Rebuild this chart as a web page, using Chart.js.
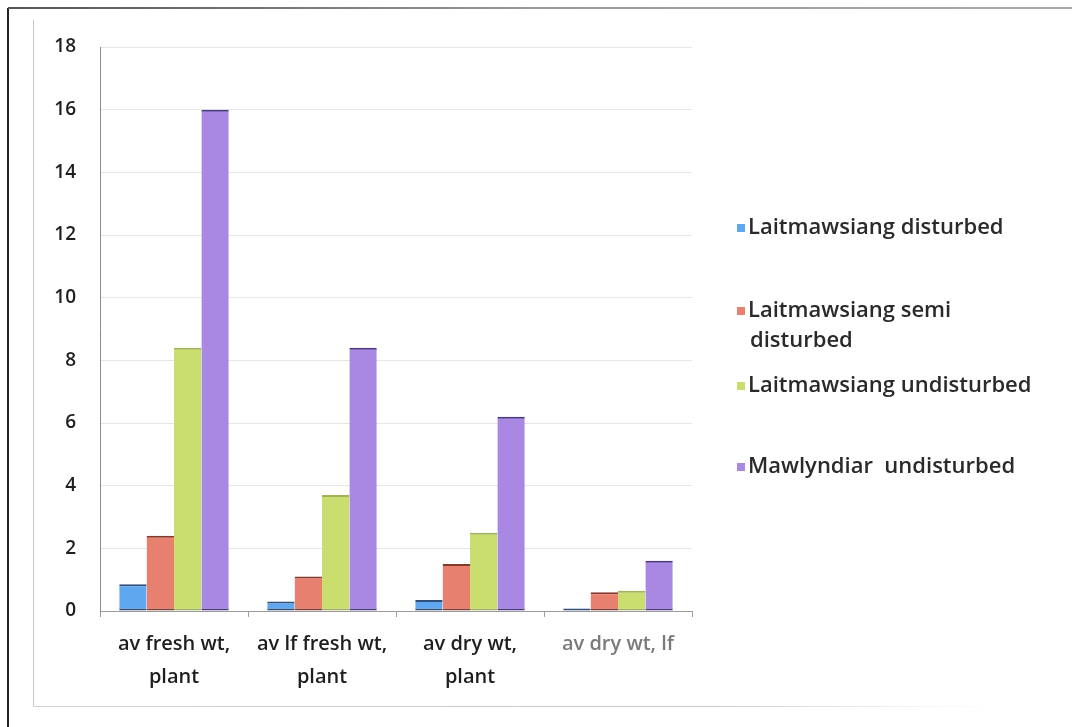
<!DOCTYPE html>
<html>
<head>
<meta charset="utf-8">
<script src="https://cdn.jsdelivr.net/npm/chart.js@4/dist/chart.umd.min.js"></script>
<style>
  html, body { margin: 0; padding: 0; background: #ffffff; }
  #wrap { position: relative; width: 1072px; height: 727px; }
</style>
</head>
<body>
<div id="wrap"><canvas id="c" width="1072" height="727"></canvas></div>
<script>
// Biomass measurements by site
const categories = [
  ["av fresh wt,", "plant"],
  ["av lf fresh wt,", "plant"],
  ["av dry wt,", "plant"],
  "av dry wt, lf"
];
const seriesNames = [
  "Laitmawsiang disturbed",
  ["Laitmawsiang semi", "disturbed"],
  "Laitmawsiang undisturbed",
  "Mawlyndiar  undisturbed"
];
const laitDisturbed     = [0.85, 0.3, 0.35, 0.08];
const laitSemiDisturbed = [2.4, 1.1, 1.5, 0.6];
const laitUndisturbed   = [8.4, 3.7, 2.5, 0.65];
const mawUndisturbed    = [16.0, 8.4, 6.2, 1.6];
const yTicks = [0, 2, 4, 6, 8, 10, 12, 14, 16, 18];

const fills   = ["#5fa7ee", "#e8806f", "#c9de6e", "#a988e4"];
const edges   = ["#2e4f7a", "#86392e", "#9fb25a", "#4b3585"];
const values  = [laitDisturbed, laitSemiDisturbed, laitUndisturbed, mawUndisturbed];

const FONT = "'Open Sans', 'DejaVu Sans', sans-serif";

// page frame and chart border
const framePlugin = {
  id: "frame",
  beforeDraw(chart) {
    const ctx = chart.ctx;
    ctx.save();
    ctx.fillStyle = "#ffffff";
    ctx.fillRect(0, 0, chart.width, chart.height);
    // outer edge
    ctx.strokeStyle = "#222";
    ctx.lineWidth = 2;
    ctx.beginPath();
    ctx.moveTo(8, 8); ctx.lineTo(8, chart.height);
    ctx.stroke();
    const g = ctx.createLinearGradient(8, 0, chart.width, 0);
    g.addColorStop(0, "#555");
    g.addColorStop(0.5, "#999");
    g.addColorStop(1, "#aaa");
    ctx.strokeStyle = g;
    ctx.beginPath();
    ctx.moveTo(8, 8); ctx.lineTo(chart.width, 8);
    ctx.stroke();
    // inner chart border
    ctx.lineWidth = 1;
    ctx.strokeStyle = "#c4c4c4";
    ctx.beginPath();
    ctx.moveTo(33.5, 20); ctx.lineTo(33.5, 706.5);
    ctx.stroke();
    const gb = ctx.createLinearGradient(33, 0, 1000, 0);
    gb.addColorStop(0, "#d0d0d0");
    gb.addColorStop(0.7, "#c8c8c8");
    gb.addColorStop(1, "rgba(220,220,220,0)");
    ctx.strokeStyle = gb;
    ctx.beginPath();
    ctx.moveTo(33.5, 706.5); ctx.lineTo(1000, 706.5);
    ctx.stroke();
    ctx.restore();
  }
};

// legend drawn beside the plot
const legendPlugin = {
  id: "sideLegend",
  afterDraw(chart) {
    const ctx = chart.ctx;
    const rows = [228, 311, 386, 467];
    const x = 737;
    ctx.save();
    ctx.font = "600 22px " + FONT;
    ctx.textBaseline = "middle";
    chart.data.datasets.forEach((ds, i) => {
      const y = rows[i];
      ctx.fillStyle = ds.backgroundColor;
      ctx.fillRect(x, y - 4, 8, 8);
      ctx.fillStyle = "#2a2a2a";
      const lines = Array.isArray(ds.label) ? ds.label : [ds.label];
      lines.forEach((t, k) => {
        ctx.fillText(t, k === 0 ? x + 11 : x + 13, y + k * 30);
      });
    });
    ctx.restore();
  }
};

new Chart(document.getElementById("c"), {
  type: "bar",
  data: {
    labels: categories,
    datasets: values.map((v, i) => ({
      label: seriesNames[i],
      data: v,
      backgroundColor: fills[i],
      borderColor: edges[i],
      borderWidth: { top: 2, bottom: 2, left: 0, right: 0 },
      borderSkipped: false,
      categoryPercentage: 0.74,
      barPercentage: 1.0
    }))
  },
  options: {
    responsive: false,
    animation: false,
    layout: { padding: { left: 0, right: 380, top: 47, bottom: 10 } },
    plugins: { legend: { display: false }, tooltip: { enabled: false } },
    scales: {
      x: {
        afterFit(s) { s.height = 106; },
        border: { display: true, color: "#9a9a9a", width: 1 },
        grid: { display: true, drawOnChartArea: false, offset: true, tickLength: 6, color: "#a0a0a0" },
        ticks: {
          padding: 11,
          maxRotation: 0,
          autoSkip: false,
          font: { family: FONT, size: 20, weight: "600", lineHeight: 1.65 },
          color: (c) => (c.index === 3 ? "#7a7a7a" : "#1e1e1e")
        }
      },
      y: {
        min: 0,
        max: 18,
        afterFit(s) { s.width = 100; },
        afterBuildTicks(s) { s.ticks = yTicks.map(v => ({ value: v })); },
        border: { display: true, color: "#8a8a8a", width: 1 },
        grid: { color: "#e6e6e6", lineWidth: 1, drawTicks: false },
        ticks: {
          padding: 24,
          font: { family: FONT, size: 19, weight: "600" },
          color: "#1e1e1e"
        }
      }
    }
  },
  plugins: [framePlugin, legendPlugin]
});
</script>
</body>
</html>
